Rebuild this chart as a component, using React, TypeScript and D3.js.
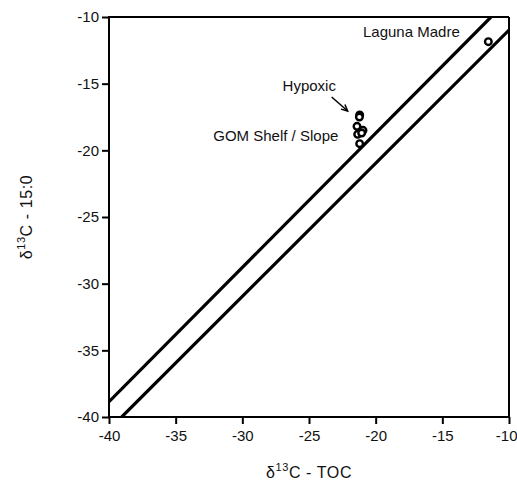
import React, { useEffect, useRef } from "react";
import * as d3 from "d3";

const xTicks = [-40, -35, -30, -25, -20, -15, -10];
const yTicks = [-40, -35, -30, -25, -20, -15, -10];

// Reference lines (endpoints in data units)
const upperLine: [number, number][] = [[-40, -38.85], [-11.35, -10]];
const lowerLine: [number, number][] = [[-39.05, -40], [-10, -10.98]];

// Samples
const lagunaMadre: [number, number][] = [[-11.55, -11.85]];
const hypoxic: [number, number][] = [[-21.2, -17.35], [-21.22, -17.5]];
const gomShelf: [number, number][] = [
  [-21.4, -18.2],
  [-20.95, -18.5],
  [-21.35, -18.8],
  [-21.05, -18.7],
  [-21.2, -19.5],
];

const annotations = [
  { text: "Laguna Madre", x: -20.95, y: -11.5, anchor: "start" },
  { text: "Hypoxic", x: -22.98, y: -15.55, anchor: "end" },
  { text: "GOM Shelf / Slope", x: -22.8, y: -19.3, anchor: "end" },
];

export default function App() {
  const ref = useRef<SVGSVGElement | null>(null);

  useEffect(() => {
    document.body.style.margin = "0";
    const svg = d3.select(ref.current);
    svg.selectAll("*").remove();
    const W = 517, H = 483;
    const L = 109, R = 509, T = 17, B = 417;
    const x = d3.scaleLinear().domain([-40, -10]).range([L, R]);
    const y = d3.scaleLinear().domain([-40, -10]).range([B, T]);
    const font = "Liberation Sans, Arial, sans-serif";
    const fs = 15;

    svg.attr("width", W).attr("height", H);

    svg.append("defs").append("clipPath").attr("id", "plotclip")
      .append("rect").attr("x", L).attr("y", T).attr("width", R - L).attr("height", B - T);

    // reference lines
    const line = d3.line<[number, number]>().x(d => x(d[0])).y(d => y(d[1]));
    const g = svg.append("g").attr("clip-path", "url(#plotclip)");
    [upperLine, lowerLine].forEach(l => {
      g.append("path").attr("d", line(l)!).attr("fill", "none")
        .attr("stroke", "#000").attr("stroke-width", 3.2);
    });

    // frame
    const frame = svg.append("g").attr("stroke", "#000").attr("stroke-width", 2).attr("fill", "none");
    frame.append("line").attr("x1", L).attr("x2", R).attr("y1", T).attr("y2", T);
    frame.append("line").attr("x1", R).attr("x2", R).attr("y1", T).attr("y2", B);
    frame.append("line").attr("x1", L).attr("x2", L).attr("y1", T - 1).attr("y2", B + 1);
    frame.append("line").attr("x1", L - 1).attr("x2", R + 1).attr("y1", B).attr("y2", B);

    // axes
    const xAxis = d3.axisBottom(x).tickValues(xTicks).tickSize(7).tickPadding(6)
      .tickFormat(d => String(d));
    const yAxis = d3.axisLeft(y).tickValues(yTicks).tickSize(7).tickPadding(3)
      .tickFormat(d => String(d));
    const gx = svg.append("g").attr("transform", `translate(0,${B})`).call(xAxis);
    const gy = svg.append("g").attr("transform", `translate(${L},0)`).call(yAxis);
    [gx, gy].forEach(ax => {
      ax.select(".domain").remove();
      ax.selectAll(".tick line").attr("stroke", "#000").attr("stroke-width", 2);
      ax.selectAll(".tick text").attr("fill", "#111").attr("font-family", font).attr("font-size", fs);
    });
    gx.selectAll<SVGTextElement, number>(".tick text")
      .filter(d => d === -10).attr("text-anchor", "end").attr("dx", 8);

    // points
    const pts = [...gomShelf, ...hypoxic, ...lagunaMadre];
    svg.append("g").selectAll("circle").data(pts).join("circle")
      .attr("cx", d => x(d[0])).attr("cy", d => y(d[1])).attr("r", 3.3)
      .attr("fill", "#fff").attr("stroke", "#000").attr("stroke-width", 2.4);

    // annotations
    svg.append("g").selectAll("text").data(annotations).join("text")
      .attr("x", d => x(d.x)).attr("y", d => y(d.y))
      .attr("text-anchor", d => d.anchor)
      .attr("font-family", font).attr("font-size", 15).attr("fill", "#111")
      .text(d => d.text);

    // arrow to hypoxic
    const ax0 = x(-23.3), ay0 = y(-16.0);
    const ax1 = x(-22.1), ay1 = y(-17.05);
    svg.append("line").attr("x1", ax0).attr("y1", ay0).attr("x2", ax1).attr("y2", ay1)
      .attr("stroke", "#000").attr("stroke-width", 1.5);
    const ang = Math.atan2(ay1 - ay0, ax1 - ax0);
    const hl = 7;
    const p1 = [ax1 - hl * Math.cos(ang - 0.45), ay1 - hl * Math.sin(ang - 0.45)];
    const p2 = [ax1 - hl * Math.cos(ang + 0.45), ay1 - hl * Math.sin(ang + 0.45)];
    svg.append("path").attr("d", `M${p1[0]},${p1[1]}L${ax1},${ay1}L${p2[0]},${p2[1]}`)
      .attr("fill", "none").attr("stroke", "#000").attr("stroke-width", 1.5);

    // axis titles
    const tfs = 16;
    const xt = svg.append("text").attr("x", (L + R) / 2).attr("y", 478)
      .attr("text-anchor", "middle").attr("font-family", font).attr("font-size", tfs)
      .attr("letter-spacing", 0.6).attr("fill", "#111");
    xt.append("tspan").text("δ");
    xt.append("tspan").attr("font-size", 11).attr("dy", -7).text("13");
    xt.append("tspan").attr("dy", 7).text("C - TOC");

    const yt = svg.append("text").attr("transform", `translate(32,${(T + B) / 2}) rotate(-90)`)
      .attr("text-anchor", "middle").attr("font-family", font).attr("font-size", tfs)
      .attr("letter-spacing", 0.6).attr("fill", "#111");
    yt.append("tspan").text("δ");
    yt.append("tspan").attr("font-size", 11).attr("dy", -7).text("13");
    yt.append("tspan").attr("dy", 7).text("C - 15:0");
  }, []);

  return <svg ref={ref} style={{ display: "block" }} />;
}
